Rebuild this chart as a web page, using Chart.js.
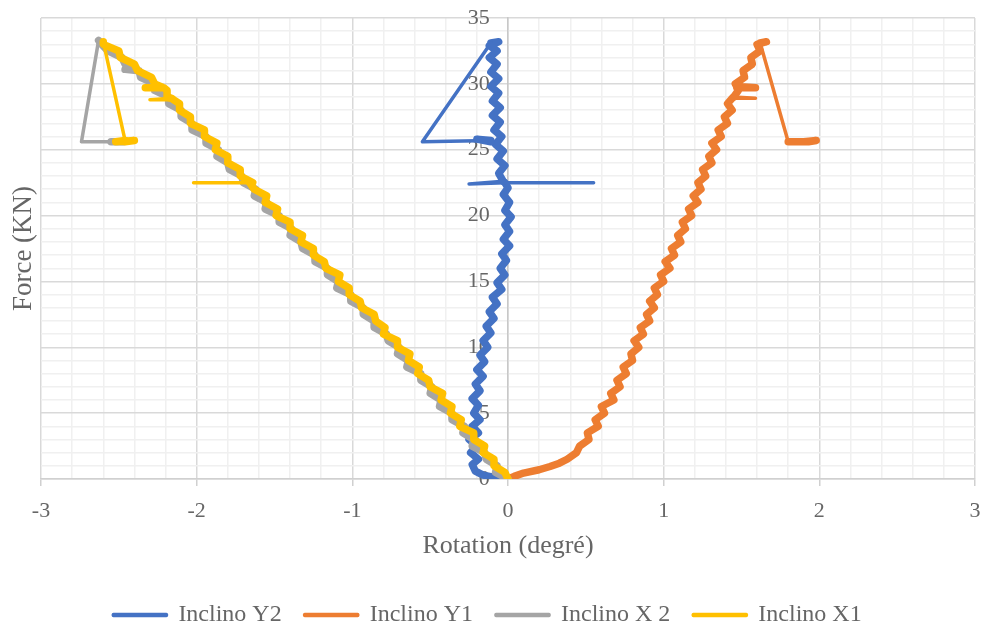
<!DOCTYPE html>
<html>
<head>
<meta charset="utf-8">
<script src="https://cdn.jsdelivr.net/npm/chart.js@4.4.0/dist/chart.umd.min.js"></script>
<style>
  html, body { margin: 0; padding: 0; background: #fff; }
</style>
</head>
<body>
<canvas id="chart" width="983" height="627"></canvas>
<script>
// series names + colours (legend order)
const seriesNames = ['Inclino Y2', 'Inclino Y1', 'Inclino X 2', 'Inclino X1'];
const seriesColors = ['#4472C4', '#ED7D31', '#A5A5A5', '#FFC000'];

// [rotation (degré), force (KN)]
const inclinoY2 = [
  [0,0],[-0.08,0.1],[-0.16,0.3],[-0.21,0.6],[-0.23,1.1],[-0.19,1.5],[-0.24,2.0],[-0.2,2.5],[-0.25,3.0],
  [-0.19,3.5],[-0.23,4.0],[-0.18,4.5],[-0.22,5.0],[-0.19,5.6],[-0.23,6.1],[-0.18,6.7],[-0.21,7.2],
  [-0.16,7.8],[-0.2,8.3],[-0.15,8.9],[-0.18,9.4],[-0.13,10.0],[-0.16,10.5],[-0.11,11.1],[-0.14,11.6],
  [-0.09,12.2],[-0.12,12.7],[-0.07,13.3],[-0.1,13.8],[-0.04,14.4],[-0.07,14.9],[-0.02,15.5],[-0.05,16.0],
  [-0.01,16.6],[-0.04,17.1],[0.01,17.7],[-0.03,18.2],[0.01,18.8],[-0.02,19.3],[0.02,19.9],[-0.02,20.4],
  [0.01,21.0],[-0.03,21.6],[0.0,22.1],[-0.02,22.5],[0.55,22.5],[-0.02,22.5],[-0.25,22.4],[-0.03,22.6],
  [-0.06,23.2],[-0.02,23.8],[-0.07,24.3],[-0.03,24.9],[-0.08,25.4],[-0.04,26.0],[-0.09,26.5],[-0.05,27.1],
  [-0.1,27.6],[-0.05,28.2],[-0.1,28.7],[-0.06,29.3],[-0.11,29.8],[-0.06,30.4],[-0.11,30.9],[-0.07,31.5],
  [-0.12,32.0],[-0.07,32.5],[-0.12,32.9],[-0.06,33.2],[-0.11,33.1],[-0.55,25.6],[-0.11,25.7],[-0.2,25.8],[-0.11,25.6]
];
const inclinoY1 = [
  [0,0],[0.04,0.2],[0.1,0.45],[0.2,0.7],[0.27,0.95],[0.33,1.2],[0.38,1.5],[0.44,2.0],[0.46,2.5],[0.52,3.0],
  [0.51,3.5],[0.58,4.0],[0.56,4.5],[0.62,5.0],[0.6,5.5],[0.68,6.0],[0.66,6.5],[0.72,7.0],[0.7,7.5],
  [0.76,8.0],[0.74,8.5],[0.8,9.0],[0.79,9.5],[0.84,10.0],[0.81,10.5],[0.87,11.0],[0.85,11.5],[0.91,12.0],
  [0.89,12.5],[0.94,13.0],[0.91,13.5],[0.96,14.0],[0.94,14.5],[1.0,15.0],[0.98,15.5],[1.04,16.0],
  [1.01,16.5],[1.07,17.0],[1.05,17.5],[1.11,18.0],[1.09,18.5],[1.14,19.0],[1.12,19.5],[1.18,20.0],
  [1.16,20.5],[1.22,21.0],[1.19,21.5],[1.24,22.0],[1.22,22.5],[1.27,23.0],[1.25,23.5],[1.31,24.0],
  [1.29,24.5],[1.34,25.0],[1.31,25.5],[1.37,26.0],[1.35,26.5],[1.41,27.0],[1.39,27.5],[1.44,28.0],
  [1.41,28.5],[1.44,28.9],[1.59,28.9],[1.45,29.0],[1.48,29.5],[1.47,29.7],[1.59,29.7],[1.47,29.8],
  [1.46,30.0],[1.52,30.5],[1.51,31.0],[1.57,31.5],[1.56,32.0],[1.62,32.5],[1.6,33.0],[1.66,33.2],[1.62,33.1],
  [1.8,25.6],[1.9,25.6],[1.98,25.7],[1.93,25.6]
];
const inclinoX2 = [
  [0,0],[-0.08,0.5],[-0.07,1.0],[-0.14,1.5],[-0.15,2.0],[-0.23,2.5],[-0.22,3.0],[-0.29,3.5],[-0.28,4.0],
  [-0.36,4.5],[-0.36,5.0],[-0.44,5.5],[-0.43,6.0],[-0.5,6.5],[-0.49,7.0],[-0.56,7.5],[-0.56,8.0],
  [-0.65,8.5],[-0.64,9.0],[-0.71,9.5],[-0.7,10.0],[-0.77,10.5],[-0.78,11.0],[-0.86,11.5],[-0.86,12.0],
  [-0.93,12.5],[-0.93,13.0],[-1.01,13.5],[-1.01,14.0],[-1.1,14.5],[-1.09,15.0],[-1.16,15.5],[-1.16,16.0],
  [-1.24,16.5],[-1.24,17.0],[-1.32,17.5],[-1.33,18.0],[-1.4,18.5],[-1.39,19.0],[-1.47,19.5],[-1.47,20.0],
  [-1.56,20.5],[-1.55,21.0],[-1.63,21.5],[-1.62,22.0],[-1.7,22.5],[-1.71,23.0],[-1.79,23.5],[-1.8,24.0],
  [-1.87,24.5],[-1.86,25.0],[-1.94,25.5],[-1.94,26.0],[-2.03,26.5],[-2.03,27.0],[-2.1,27.5],[-2.1,28.0],
  [-2.18,28.5],[-2.18,29.0],[-2.27,29.5],[-2.27,30.0],[-2.36,30.5],[-2.37,31.0],[-2.46,31.1],[-2.39,31.2],
  [-2.46,31.5],[-2.48,32.0],[-2.57,32.5],[-2.61,33.0],[-2.63,33.3],[-2.74,25.6],[-2.55,25.6],[-2.47,25.6]
];
const inclinoX1 = [
  [0,0],[-0.02,0.5],[-0.09,1.0],[-0.09,1.5],[-0.16,2.0],[-0.15,2.5],[-0.22,3.0],[-0.22,3.5],[-0.31,4.0],
  [-0.3,4.5],[-0.37,5.0],[-0.36,5.5],[-0.43,6.0],[-0.42,6.5],[-0.5,7.0],[-0.51,7.5],[-0.58,8.0],
  [-0.57,8.5],[-0.64,9.0],[-0.63,9.5],[-0.71,10.0],[-0.71,10.5],[-0.8,11.0],[-0.79,11.5],[-0.85,12.0],
  [-0.86,12.5],[-0.94,13.0],[-0.95,13.5],[-1.02,14.0],[-1.02,14.5],[-1.09,15.0],[-1.08,15.5],[-1.17,16.0],
  [-1.18,16.5],[-1.25,17.0],[-1.25,17.5],[-1.33,18.0],[-1.32,18.5],[-1.4,19.0],[-1.4,19.5],[-1.49,20.0],
  [-1.48,20.5],[-1.56,21.0],[-1.55,21.5],[-1.63,22.0],[-1.66,22.5],[-2.02,22.5],[-1.64,22.5],[-1.72,23.0],
  [-1.72,23.5],[-1.8,24.0],[-1.8,24.5],[-1.88,25.0],[-1.87,25.5],[-1.95,26.0],[-1.95,26.5],[-2.04,27.0],
  [-2.04,27.5],[-2.11,28.0],[-2.11,28.5],[-2.15,28.8],[-2.3,28.8],[-2.16,28.9],[-2.19,29.0],[-2.19,29.5],
  [-2.21,29.7],[-2.33,29.7],[-2.22,29.75],[-2.27,30.0],[-2.29,30.5],[-2.38,31.0],[-2.4,31.5],[-2.49,32.0],
  [-2.5,32.5],[-2.6,33.0],[-2.6,33.2],[-2.46,25.7],[-2.52,25.6],[-2.4,25.7],[-2.46,25.6]
];

const xMin = -3, xMax = 3, xStep = 0.2;
const yMin = 0, yMax = 35, yStep = 1;

const serif = "'Liberation Serif', 'Times New Roman', serif";
Chart.defaults.font.family = serif;
Chart.defaults.color = '#666';

const isWhole = v => Math.abs(v - Math.round(v)) < 1e-6;
const toXY = arr => arr.map(p => ({ x: p[0], y: p[1] }));

// noisy part thick, long jumps (drops / spikes) thinner
const segWidth = ctx => Math.hypot(ctx.p1.x - ctx.p0.x, ctx.p1.y - ctx.p0.y) > 20 ? 3.5 : 7.5;

const allSeries = [inclinoY2, inclinoY1, inclinoX2, inclinoX1];
const datasets = allSeries.map((s, i) => ({
  label: seriesNames[i],
  data: toXY(s),
  showLine: true,
  borderColor: seriesColors[i],
  backgroundColor: seriesColors[i],
  borderWidth: 3.5,
  pointRadius: 0,
  borderCapStyle: 'round',
  borderJoinStyle: 'round',
  segment: { borderWidth: segWidth },
  order: 3 - i   // later series on top, like the original
}));

// legend is too tall with big padding, pin its height
const legendHeight = {
  id: 'legendHeight',
  beforeInit(chart) {
    const fit = chart.legend.fit;
    chart.legend.fit = function () { fit.call(this); this.height = 47; };
  }
};

new Chart(document.getElementById('chart'), {
  type: 'scatter',
  data: { datasets },
  plugins: [legendHeight],
  options: {
    responsive: false,
    animation: false,
    devicePixelRatio: 1,
    layout: { padding: { left: 0, right: 8, top: 18, bottom: 0 } },
    plugins: {
      tooltip: { enabled: false },
      legend: {
        position: 'bottom',
        labels: {
          boxWidth: 53,
          boxHeight: 1,
          padding: 23,
          color: '#666',
          font: { size: 24 },
          sort: (a, b) => a.datasetIndex - b.datasetIndex
        }
      }
    },
    scales: {
      x: {
        type: 'linear',
        min: xMin, max: xMax,
        afterFit: s => { s.height = 101; s.paddingLeft = 0; s.paddingRight = 0; },
        ticks: {
          stepSize: xStep,
          autoSkip: false,
          maxRotation: 0,
          padding: 12,
          font: { size: 22 },
          callback: v => isWhole(v) ? String(Math.round(v)) : ''
        },
        grid: {
          color: c => (c.tick && isWhole(c.tick.value)) ? '#d9d9d9' : '#f0f0f0',
          tickColor: c => (c.tick && isWhole(c.tick.value)) ? '#d0d0d0' : 'rgba(0,0,0,0)',
          tickLength: 7,
          lineWidth: 1.5
        },
        border: { color: '#d0d0d0', width: 1.5 },
        title: { display: true, text: 'Rotation (degré)', font: { size: 26 }, padding: { top: 6, bottom: 18 } }
      },
      y: {
        type: 'linear',
        position: { x: 0 },
        min: yMin, max: yMax,
        afterFit: s => { s.paddingTop = 0; s.paddingBottom = 0; },
        ticks: {
          stepSize: yStep,
          autoSkip: false,
          font: { size: 22 },
          // labels sit left of the axis line
          callback: v => (v % 5 === 0) ? String(v) + '\u2002\u2004' : ''
        },
        grid: {
          color: c => (c.tick && c.tick.value % 5 === 0) ? '#d9d9d9' : '#f0f0f0',
          drawTicks: false,
          lineWidth: 1.5
        },
        border: { color: '#c8c8c8', width: 1.5 }
      },
      yTitle: {
        type: 'linear',
        position: 'left',
        min: yMin, max: yMax,
        ticks: { display: false },
        grid: { display: false, drawTicks: false },
        border: { display: false },
        title: { display: true, text: 'Force (KN)', font: { size: 27 }, padding: { top: 8, bottom: 0.6 } }
      }
    }
  }
});
</script>
</body>
</html>
